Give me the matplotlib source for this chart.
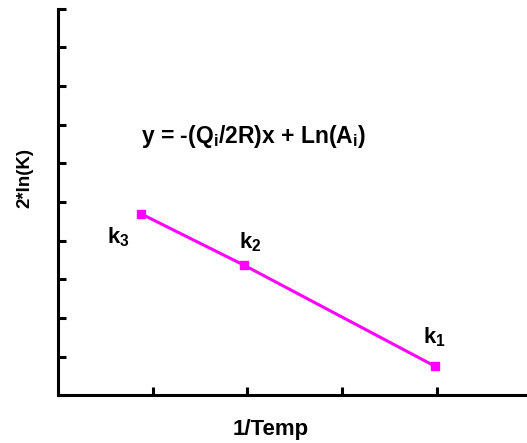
import matplotlib
matplotlib.use("Agg")
import matplotlib.pyplot as plt

plt.rcParams['font.family'] = ['Liberation Sans', 'DejaVu Sans']
plt.rcParams['mathtext.fontset'] = 'custom'
plt.rcParams['mathtext.rm'] = 'Liberation Sans:bold'
plt.rcParams['mathtext.bf'] = 'Liberation Sans:bold'
plt.rcParams['mathtext.it'] = 'Liberation Sans:bold'

# points (axis units: x tick = 1, y tick = 1)
inv_temp = [0.88, 1.96, 3.98]
ln_k2 = [4.69, 3.37, 0.75]
point_labels = [r'k$_3$', r'k$_2$', r'k$_1$']
label_offsets = [(-0.24, -0.6), (0.07, 0.6), (0.0, 0.75)]

fig = plt.figure(figsize=(5.27, 4.43), dpi=100)
ax = fig.add_axes([0.110, 0.108, 0.886, 0.872])

ax.plot(inv_temp, ln_k2, color='#ff00ff', lw=2.2, marker='s', markersize=6)

for x, y, lab, (dx, dy) in zip(inv_temp, ln_k2, point_labels, label_offsets):
    ax.text(x + dx, y + dy, lab, fontsize=16, fontweight='bold',
            ha='center', va='center')

ax.text(2.07, 6.7, r'y = -(Q$_i$/2R)x + Ln(A$_i$)', fontsize=16.5,
        fontweight='bold', ha='center', va='center')

ax.set_xlim(0, 4.93)
ax.set_ylim(0, 10)
ax.set_xticks([1, 2, 3, 4])
ax.set_yticks(range(0, 11))
ax.set_xticklabels([])
ax.set_yticklabels([])
ax.tick_params(direction='in', length=6, width=2.2)

for s in ['top', 'right']:
    ax.spines[s].set_visible(False)
for s in ['left', 'bottom']:
    ax.spines[s].set_linewidth(2.2)

ax.set_xlabel('1/Temp', fontsize=16, fontweight='bold')
ax.set_ylabel('2*ln(K)', fontsize=13.5, fontweight='bold')
ax.xaxis.set_label_coords((271 - 58) / 467, (395 - 419) / 386)
ax.yaxis.set_label_coords((33 - 58) / 467, (395 - 178) / 386)

fig.savefig('out.png', dpi=100)
